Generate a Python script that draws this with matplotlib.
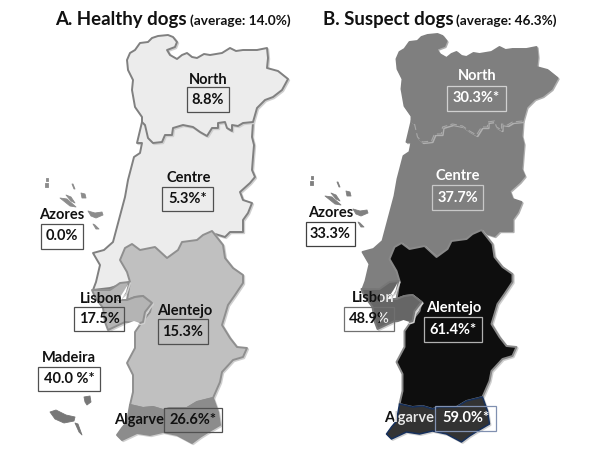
import matplotlib
matplotlib.use('Agg')
import matplotlib.pyplot as plt
from matplotlib.patches import Polygon, Rectangle

plt.rcParams['font.family'] = ['Lato', 'DejaVu Sans']

# outlines, in picture pixels of panel A
north = [(127, 60), (130, 53), (135, 50), (140, 43), (148, 42), (152, 38), (158, 36), (168, 35), (173, 37), (177, 42),
         (175, 47), (167, 50), (170, 55), (177, 59), (182, 55), (187, 53), (192, 57), (197, 58), (204, 54), (210, 55),
         (222, 53), (230, 48), (236, 51), (243, 50), (257, 50), (267, 48), (268, 58), (267, 68), (278, 71), (288, 79),
         (282, 90), (273, 97), (265, 100), (257, 108), (253, 122), (243, 123), (238, 126), (232, 125), (232, 131),
         (227, 128), (225, 122), (218, 123), (218, 128), (212, 128), (207, 136), (200, 132), (193, 127), (183, 125),
         (173, 128), (172, 135), (165, 135), (162, 142), (153, 143), (148, 138), (145, 125), (142, 122), (142, 117),
         (135, 107), (132, 90), (133, 80), (128, 70)]
centre = [(145, 125), (160, 120), (253, 122), (252, 137), (254, 145), (253, 157), (252, 170), (255, 177), (250, 183),
          (240, 192), (243, 200), (252, 203), (248, 213), (243, 220), (243, 232), (230, 232), (225, 237), (212, 233),
          (130, 282), (110, 288), (93, 290), (96, 282), (100, 265), (93, 253), (104, 250), (113, 242), (117, 227),
          (125, 197), (128, 180), (134, 157), (140, 153), (142, 143), (137, 143), (142, 122)]
alentejo = [(212, 231), (223, 245), (225, 258), (233, 268), (243, 275), (243, 283), (235, 295), (228, 305), (225, 315),
            (222, 325), (230, 338), (237, 347), (247, 348), (243, 357), (233, 360), (222, 372), (220, 382), (213, 398),
            (197, 402), (187, 408), (170, 408), (163, 410), (153, 407), (143, 408), (130, 405), (133, 392), (133, 375),
            (127, 363), (135, 348), (135, 332), (142, 322), (150, 312), (152, 303), (143, 296), (135, 297), (127, 300),
            (130, 282), (127, 272), (120, 260), (125, 248), (132, 244), (140, 250), (155, 247), (167, 258), (178, 250),
            (182, 242), (197, 240), (203, 235)]
lisbon = [(92, 290), (110, 290), (120, 283), (129, 282), (125, 293), (117, 300), (127, 300), (135, 297), (143, 296),
          (152, 303), (145, 312), (143, 322), (140, 323), (125, 322), (108, 330), (105, 322), (103, 308), (95, 297)]
algarve = [(130, 405), (143, 408), (153, 407), (163, 410), (170, 408), (187, 408), (197, 402), (213, 398), (218, 412),
           (220, 425), (208, 432), (200, 437), (192, 443), (177, 435), (163, 432), (150, 435), (137, 433), (122, 440),
           (117, 435), (122, 428), (127, 422)]
estuaries = [[(118, 300), (124, 291), (128, 284), (126, 292), (121, 300)],
             [(126, 324), (134, 321), (140, 323), (134, 328), (129, 327)]]
azores = [[(46, 178), (48, 178), (48, 181), (46, 181)],
          [(45, 183), (48, 183), (48, 187), (45, 187)],
          [(72, 184), (73, 184), (75, 189), (74, 189)],
          [(81, 193), (85, 194), (86, 198), (82, 198)],
          [(60, 198), (67, 199), (76, 207), (70, 206)],
          [(66, 195), (71, 197), (75, 203), (71, 201)],
          [(88, 211), (95, 213), (102, 212), (103, 215), (96, 218), (91, 216)],
          [(93, 224), (95, 225), (99, 229), (96, 229)]]
madeira = [[(50, 412), (56, 410), (66, 415), (75, 417), (74, 421), (64, 423), (55, 419)],
           [(84, 397), (90, 396), (91, 402), (87, 405), (85, 402)],
           [(75, 423), (78, 424), (82, 435), (79, 432)]]

title_a = 'A. Healthy dogs'
title_b = 'B. Suspect dogs'
average_a = '(average: 14.0%)'
average_b = '(average: 46.3%)'

names_a = ['North', 'Centre', 'Azores', 'Lisbon', 'Alentejo', 'Madeira', 'Algarve']
values_a = ['8.8%', '5.3%*', '0.0%', '17.5%', '15.3%', '40.0 %*', '26.6%*']
names_b = ['North', 'Centre', 'Azores', 'Lisbon', 'Alentejo', 'Algarve']
values_b = ['30.3%*', '37.7%', '33.3%', '48.9%', '61.4%*', '59.0%*']

# label x, label y, box left, top, right, bottom
layout_a = [(208, 80, 187, 87, 229, 112), (189, 178, 162, 187, 213, 211), (62, 215, 41, 224, 83, 249),
            (101, 299, 74, 307, 124, 331), (185, 311, 158, 319, 208, 344), (69, 358, 38, 367, 100, 391),
            (139, 420, 164, 408, 222, 432)]
layout_b = [(477, 76, 447, 86, 506, 111), (458, 176, 432, 185, 483, 210), (331, 213, 306, 222, 355, 246),
            (373, 298, 344, 307, 394, 331), (454, 308, 424, 317, 482, 342), (409, 418, 435, 406, 496, 431)]
colors_b = ['white', 'white', '#111111', '#111111', 'white', 'white']
edges_b = ['#d0d0d0', '#c8c8c8', '#404040', '#707070', '#b0b0b0', '#8090b0']


def draw_region(ax, points, dx, dy, face, edge, lw=1.4, shadow='#cfcfcf'):
    shifted = [(x + dx, y + dy) for x, y in points]
    shade = [(x + 1.2, y + 1.2) for x, y in shifted]
    ax.add_patch(Polygon(shade, closed=True, fc=shadow, ec=shadow, lw=lw, joinstyle='round'))
    patch = Polygon(shifted, closed=True, fc=face, ec=edge, lw=lw, joinstyle='round')
    ax.add_patch(patch)
    return patch


def draw_islands(ax, islands, dx, dy, color):
    for island in islands:
        ax.add_patch(Polygon([(x + dx, y + dy) for x, y in island], closed=True, fc=color, ec=color, lw=0.6,
                             joinstyle='round'))


def split_text(ax, x, y, text, clip, fontsize=10.5):
    # black on the white page, white where the text crosses the dark fill
    ax.text(x, y, text, fontsize=fontsize, fontweight='bold', color='#111111', ha='center', va='center')
    over = ax.text(x, y, text, fontsize=fontsize, fontweight='bold', color='#e8e8e8', ha='center', va='center')
    over.set_clip_path(clip)
    over.set_clip_on(True)


fig = plt.figure(figsize=(6, 4.5), dpi=100)
ax = fig.add_axes([0, 0, 1, 1])
ax.set_xlim(0, 600)
ax.set_ylim(450, 0)
ax.axis('off')

# Panel A
draw_region(ax, centre, 0, 0, '#ececec', '#808080')
draw_region(ax, north, 0, 0, '#ececec', '#808080')
draw_region(ax, alentejo, 0, 0, '#c0c0c0', '#8f8f8f')
draw_region(ax, algarve, 0, 0, '#8c8c8c', '#8c8c8c')
draw_region(ax, lisbon, 0, 0, '#b4b4b4', '#8f8f8f')
for est in estuaries:
    ax.add_patch(Polygon(est, closed=True, fc='white', ec='none'))
draw_islands(ax, azores, 0, 0, '#8c8c8c')
draw_islands(ax, madeira, 0, 0, '#777777')

for name, value, (lx, ly, left, top, right, bottom) in zip(names_a, values_a, layout_a):
    ax.add_patch(Rectangle((left, top), right - left, bottom - top, fc='none', ec='#505050', lw=0.9))
    ax.text(lx, ly, name, fontsize=10.5, fontweight='bold', color='#111111', ha='center', va='center')
    ax.text((left + right) / 2, (top + bottom) / 2, value, fontsize=10.5, fontweight='bold', color='#111111',
            ha='center', va='center')

# Panel B is the same map, moved to the right
dx_b, dy_b = 269.5, -1
draw_region(ax, centre, dx_b, dy_b, '#7f7f7f', '#7f7f7f', shadow='#b0b0b0')
draw_region(ax, north, dx_b, dy_b, '#7f7f7f', '#7f7f7f', shadow='#b0b0b0')
border = north[34:55]
ax.plot([x + dx_b for x, y in border], [y + dy_b for x, y in border], color='#a8a8a8', lw=0.8, ls=(0, (6, 3)))
draw_region(ax, alentejo, dx_b, dy_b, '#0e0e0e', '#8a8a8a')
draw_region(ax, algarve, dx_b, dy_b, '#333333', '#16305c', lw=1.1)
draw_region(ax, lisbon, dx_b, dy_b, '#666666', '#777777')
for est in estuaries:
    ax.add_patch(Polygon([(x + dx_b, y + dy_b) for x, y in est], closed=True, fc='white', ec='none'))
draw_islands(ax, azores, 265, -2, '#808080')

lisbon_clip = Rectangle((380, 285), 30, 50, transform=ax.transData)
algarve_clip = Rectangle((394, 405), 45, 30, transform=ax.transData)
for name, value, color, edge, (lx, ly, left, top, right, bottom) in zip(names_b, values_b, colors_b, edges_b, layout_b):
    ax.add_patch(Rectangle((left, top), right - left, bottom - top, fc='none', ec=edge, lw=0.9))
    if name == 'Lisbon':
        split_text(ax, lx, ly, name, lisbon_clip)
        split_text(ax, (left + right) / 2, (top + bottom) / 2, value, lisbon_clip)
        continue
    if name == 'Algarve':
        split_text(ax, lx, ly, name, algarve_clip)
    else:
        ax.text(lx, ly, name, fontsize=10.5, fontweight='bold', color=color, ha='center', va='center')
    ax.text((left + right) / 2, (top + bottom) / 2, value, fontsize=10.5, fontweight='bold', color=color,
            ha='center', va='center')

# titles
ax.text(55, 20, title_a, fontsize=13.4, fontweight='bold', color='#111111', ha='left', va='center')
ax.text(190, 21, average_a, fontsize=9.8, fontweight='bold', color='#111111', ha='left', va='center')
ax.text(323, 20, title_b, fontsize=13.4, fontweight='bold', color='#111111', ha='left', va='center')
ax.text(456, 21, average_b, fontsize=9.8, fontweight='bold', color='#111111', ha='left', va='center')

fig.savefig('out.png', dpi=100)
